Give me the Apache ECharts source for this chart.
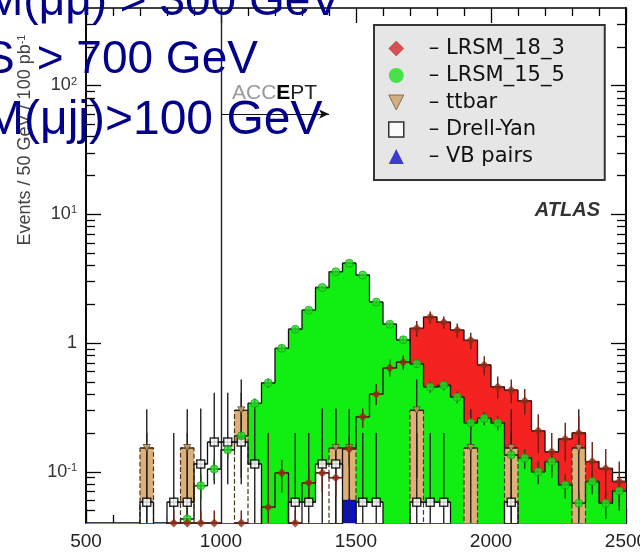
<!DOCTYPE html>
<html><head><meta charset="utf-8">
<script src="https://cdn.jsdelivr.net/npm/echarts@6/dist/echarts.min.js"></script>
<style>html,body{margin:0;padding:0;background:#fff}#c{width:640px;height:557px}</style>
</head><body><div id="c"></div>
<script>
// ---------- data (bins of 50 GeV, left edges) ----------
const binLow = [500,550,600,650,700,750,800,850,900,950,1000,1050,1100,1150,1200,1250,1300,1350,1400,1450,
                1500,1550,1600,1650,1700,1750,1800,1850,1900,1950,2000,2050,2100,2150,2200,2250,2300,2350,2400,2450];
const X_MAX = 2500;
const xTickLabels = [500,1000,1500,2000,2500];
const yMajorTicks = [0.1, 1, 10, 100];
const yMinorTicks = [0.05,0.06,0.07,0.08,0.09,0.2,0.3,0.4,0.5,0.6,0.7,0.8,0.9,2,3,4,5,6,7,8,9,20,30,40,50,60,70,80,90,200,300];

const lrsm183 = [0,0,0,0,0,0,0.04,0.04,0.04,0.04,0,0.04,0,0.053,0.098,0.04,0.082,0.098,0.09,0.15,
                 0.267,0.40,0.64,0.71,1.3,1.59,1.45,1.26,1.05,0.675,0.456,0.43,0.355,0.208,0.143,0.18,0.2,0.12,0.106,0.084];
const lrsm183Lo = [null,null,null,null,null,null,0,0,0,0,null,0,null,0,0.069,0,0.055,0.07,0.065,0.11,
                 0.22,0.33,0.55,0.62,1.12,1.42,1.29,1.1,0.9,0.56,0.37,0.34,0.28,0.14,0.09,0.12,0.14,0.075,0.065,0.05];
const lrsm183Hi = [null,null,null,null,null,null,0.05,0.05,0.05,0.05,null,0.05,null,0.2,0.124,0.05,0.11,0.125,0.115,0.19,
                 0.31,0.48,0.74,0.8,1.48,1.76,1.61,1.42,1.2,0.79,0.55,0.52,0.44,0.28,0.2,0.24,0.27,0.17,0.15,0.12];

const lrsm155 = [0,0,0,0,0,0,0,0.043,0.078,0.105,0.148,0.19,0.34,0.49,0.91,1.28,1.80,2.7,3.58,4.17,
                 3.37,2.08,1.40,1.06,0.69,0.456,0.47,0.38,0.24,0.26,0.24,0.135,0.128,0.10,0.12,0.079,0.057,0.084,0.057,0.071];
const lrsm155Lo = [null,null,null,null,null,null,null,0.03,0.06,0.085,0.125,0.165,0.31,0.45,0.86,1.22,1.73,2.62,3.48,4.06,
                 3.27,2.0,1.34,1.0,0.64,0.41,0.43,0.34,0.21,0.23,0.21,0.11,0.105,0.08,0.1,0.062,0.043,0.067,0.043,0.055];
const lrsm155Hi = [null,null,null,null,null,null,null,0.057,0.096,0.125,0.17,0.215,0.37,0.53,0.96,1.34,1.87,2.78,3.68,4.28,
                 3.47,2.16,1.46,1.12,0.74,0.5,0.51,0.42,0.27,0.29,0.27,0.16,0.15,0.12,0.14,0.096,0.071,0.1,0.071,0.087];

const ttbar   = [0,0,0,0,0.153,0,0,0.153,0,0,0,0.3,0,0,0,0,0,0,0.153,0.153,
                 0,0,0,0,0.3,0,0,0,0.153,0,0,0.153,0,0,0,0,0.153,0,0,0];
const ttbarLo = [null,null,null,null,0,null,null,0,null,null,null,0.09,null,null,null,null,null,null,0,0,
                 null,null,null,null,0.09,null,null,null,0,null,null,0,null,null,null,null,0,null,null,null];
const ttbarHi = [null,null,null,null,0.306,null,null,0.306,null,null,null,0.52,null,null,null,null,null,null,0.306,0.306,
                 null,null,null,null,0.52,null,null,null,0.306,null,null,0.306,null,null,null,null,0.306,null,null,null];

const drellYan = [0,0,0,0,0.058,0,0.058,0.058,0.115,0.17,0.17,0.17,0.115,0,0,0.058,0.058,0.115,0.115,0,
                  0.058,0.058,0,0,0.058,0.058,0.058,0,0,0,0,0.058,0,0,0,0,0,0,0,0];
const drellYanLo = [null,null,null,null,0,null,0,0,0.04,0.08,0.08,0.08,0.04,null,null,0,0,0.04,0.04,null,
                  0,0,null,null,0,0,0,null,null,null,null,0,null,null,null,null,null,null,null,null];
const drellYanHi = [null,null,null,null,0.2,null,0.2,0.2,0.31,0.41,0.41,0.41,0.31,null,null,0.2,0.2,0.31,0.31,null,
                  0.2,0.2,null,null,0.2,0.2,0.2,null,null,null,null,0.2,null,null,null,null,null,null,null,null];

const vbPairs = [0,0,0,0,0,0,0,0,0,0,0,0,0,0,0,0,0,0,0,0.06,
                 0,0,0,0,0,0,0,0,0,0,0,0,0,0,0,0,0,0,0,0];

const ACCEPT_CUT = 1000, ARROW_END = 1400, ARROW_Y = 60;
const Y_MIN = 0.04, Y_MAX = 400;
const FLOOR = 1e-3; // empty bins fall below the axis

// ---------- helpers ----------
const binHigh = binLow.map((x, i) => i + 1 < binLow.length ? binLow[i + 1] : X_MAX);
const FONT = '"Liberation Sans", Arial, Helvetica, sans-serif';
const WIDE = '"DejaVu Sans", sans-serif';
const GRID = { left: 86, right: 14, top: 8, bottom: 34 };
const GRID_W = 640 - GRID.left - GRID.right;

function histLine(vals) {
  const pts = binLow.map((x, i) => [x, vals[i] > 0 ? vals[i] : FLOOR]);
  const last = vals[vals.length - 1];
  pts.push([X_MAX, last > 0 ? last : FLOOR]);
  return pts;
}
function histSeries(name, vals, fill, line) {
  return {
    type: 'line', name: name, data: histLine(vals), step: 'end', showSymbol: false, symbol: 'none',
    clip: true, z: 2, silent: true,
    lineStyle: line, areaStyle: { color: fill, opacity: 1, origin: 'start' }
  };
}
function points(vals) {
  const out = [];
  vals.forEach((v, i) => { if (v > 0) out.push([(binLow[i] + binHigh[i]) / 2, v]); });
  return out;
}
function errSeries(name, vals, lo, hi, color) {
  const data = [];
  vals.forEach((v, i) => { if (v > 0 && lo[i] != null) data.push([binLow[i], binHigh[i], v, lo[i], hi[i]]); });
  return {
    type: 'custom', name: name, data: data, z: 3, silent: true,
    encode: { x: [0, 1], y: 2 },
    renderItem: function (params, api) {
      const xl = api.value(0), xh = api.value(1), v = api.value(2);
      const lo = Math.max(api.value(3), Y_MIN), hiV = Math.min(api.value(4), Y_MAX);
      const xc = (xl + xh) / 2;
      const pL = api.coord([xl, v]), pR = api.coord([xh, v]);
      const pT = api.coord([xc, hiV]), pB = api.coord([xc, lo]);
      const st = { stroke: color, lineWidth: 1.4 };
      return { type: 'group', children: [
        { type: 'line', shape: { x1: pL[0], y1: pL[1], x2: pR[0], y2: pR[1] }, style: st },
        { type: 'line', shape: { x1: pT[0], y1: pT[1], x2: pB[0], y2: pB[1] }, style: st }
      ]};
    }
  };
}
function supLabel(v) {
  const e = Math.round(Math.log10(v));
  if (e === 0) return '1';
  return '10{s|' + e + '}';
}

const axisLineStyle = { color: '#000', width: 1.6 };
const tickStyle = { color: '#000', width: 1.3 };
const xBase = {
  type: 'value', min: 500, max: X_MAX, interval: 500,
  splitLine: { show: false },
  axisLine: { show: true, onZero: false, lineStyle: axisLineStyle },
  axisTick: { show: true, inside: true, length: 15, lineStyle: tickStyle },
  minorTick: { show: true, splitNumber: 5, length: 8, lineStyle: tickStyle }
};
const yBase = {
  type: 'log', logBase: 10, min: Y_MIN, max: Y_MAX,
  splitLine: { show: false }, minorTick: { show: false },
  axisLine: { show: true, onZero: false, lineStyle: axisLineStyle }
};

const option = {
  animation: false,
  backgroundColor: '#fff',
  textStyle: { fontFamily: FONT },
  grid: { left: GRID.left, right: GRID.right, top: GRID.top, bottom: GRID.bottom,
          containLabel: false, outerBoundsMode: 'none' },
  xAxis: [
    Object.assign({}, xBase, { position: 'bottom',
      axisLabel: { show: true, margin: 9, fontSize: 19, color: '#222', fontFamily: FONT,
        customValues: xTickLabels, formatter: function (v) { return String(v); } } }),
    Object.assign({}, xBase, { position: 'top', axisLabel: { show: false } })
  ],
  yAxis: [
    Object.assign({}, yBase, { position: 'left',
      axisTick: { show: true, inside: true, length: 15, lineStyle: tickStyle, customValues: yMajorTicks },
      axisLabel: { show: true, margin: 9, fontSize: 18, color: '#333', fontFamily: FONT,
        customValues: yMajorTicks, formatter: supLabel,
        rich: { s: { fontSize: 11, color: '#333', verticalAlign: 'top', padding: [0, 0, 8, 0] } } } }),
    // minor ticks of the left frame edge (a right-side axis moved onto the left edge)
    Object.assign({}, yBase, { position: 'right', offset: -GRID_W,
      axisTick: { show: true, inside: false, length: 9, lineStyle: tickStyle, customValues: yMinorTicks },
      axisLabel: { show: false } }),
    Object.assign({}, yBase, { position: 'right',
      axisTick: { show: true, inside: true, length: 15, lineStyle: tickStyle, customValues: yMajorTicks },
      axisLabel: { show: false } }),
    Object.assign({}, yBase, { position: 'right',
      axisTick: { show: true, inside: true, length: 9, lineStyle: tickStyle, customValues: yMinorTicks },
      axisLabel: { show: false } })
  ],
  legend: {
    show: true, orient: 'vertical', left: 374, top: 25, selectedMode: false,
    backgroundColor: '#e6e6e6', borderColor: '#333', borderWidth: 2, borderRadius: 0,
    padding: [13, 40, 13, 14], itemGap: 6, itemWidth: 15, itemHeight: 15,
    textStyle: { fontSize: 21, color: '#111', fontFamily: WIDE,
      rich: { a: { fontSize: 21, color: '#111', padding: [0, 0, 0, 20], fontFamily: WIDE } } },
    formatter: function (name) { return '{a|– ' + name + '}'; },
    data: [
      { name: 'LRSM_18_3', icon: 'diamond', itemStyle: { color: '#d42a2a', borderColor: '#8a1a1a', borderWidth: 0.5 } },
      { name: 'LRSM_15_5', icon: 'circle', itemStyle: { color: '#22e022', borderColor: '#22e022', borderWidth: 0 } },
      { name: 'ttbar', icon: 'path://M0,0 L10,0 L5,10 Z', itemStyle: { color: '#c9a06a', borderColor: '#7a5a30', borderWidth: 1 } },
      { name: 'Drell-Yan', icon: 'rect', itemStyle: { color: '#fff', borderColor: '#000', borderWidth: 1.5 } },
      { name: 'VB pairs', icon: 'triangle', itemStyle: { color: '#1010c8', borderColor: '#1010c8', borderWidth: 0 } }
    ]
  },
  graphic: [
    { type: 'text', x: -15, y: 2, z: 100, silent: true,
      style: { text: 'M(μμ) > 300 GeV', font: '46px ' + FONT, fill: '#00008b', align: 'left', verticalAlign: 'middle' } },
    { type: 'text', x: -16, y: 60, z: 100, silent: true,
      style: { text: '{a|S}{b|> 700 GeV}', font: '46px ' + FONT, fill: '#00008b', align: 'left', verticalAlign: 'middle',
        rich: { a: { fontSize: 46, fontFamily: FONT, fill: '#00008b' },
                b: { fontSize: 46, fontFamily: FONT, fill: '#00008b', padding: [0, 0, 0, 22] } } } },
    { type: 'text', x: -16, y: 121, z: 100, silent: true,
      style: { text: 'M(μjj)>100 GeV', font: '48px ' + FONT, fill: '#00008b', align: 'left', verticalAlign: 'middle' } },
    { type: 'text', x: 25, y: 140, rotation: Math.PI / 2, z: 50, silent: true,
      style: { text: 'Events / 50 GeV / 100 pb{s|-1}', font: '18px ' + FONT, fill: '#444',
        align: 'center', verticalAlign: 'middle',
        rich: { s: { fontSize: 11, fill: '#444', verticalAlign: 'top', fontFamily: FONT } } } },
    { type: 'text', x: 600, y: 210, z: 50, silent: true,
      style: { text: 'ATLAS', font: 'italic bold 20px ' + FONT, fill: '#333', align: 'right', verticalAlign: 'middle' } }
  ],
  series: [
    histSeries('LRSM_18_3 hist', lrsm183, '#f52222', { color: '#111', width: 1.3 }),
    histSeries('LRSM_15_5 hist', lrsm155, '#11ee11', { color: '#111', width: 1.3 }),
    histSeries('ttbar hist', ttbar, '#dcb078', { color: '#4a3418', width: 1.2, type: 'dashed' }),
    histSeries('Drell-Yan hist', drellYan, '#ffffff', { color: '#111', width: 1.3 }),
    histSeries('VB pairs hist', vbPairs, '#0a10c0', { color: '#111', width: 1 }),
    errSeries('ttbar err', ttbar, ttbarLo, ttbarHi, '#222'),
    errSeries('Drell-Yan err', drellYan, drellYanLo, drellYanHi, '#222'),
    errSeries('LRSM_15_5 err', lrsm155, lrsm155Lo, lrsm155Hi, '#1a4a1a'),
    errSeries('LRSM_18_3 err', lrsm183, lrsm183Lo, lrsm183Hi, '#6a2010'),
    { type: 'scatter', name: 'ttbar', data: points(ttbar), symbol: 'path://M0,0 L10,0 L5,10 Z', symbolSize: 7, z: 4, clip: false,
      itemStyle: { color: '#c9a06a', borderColor: '#5a4020', borderWidth: 1 } },
    { type: 'scatter', name: 'Drell-Yan', data: points(drellYan), symbol: 'rect', symbolSize: 8, z: 4, clip: false,
      itemStyle: { color: '#fff', borderColor: '#000', borderWidth: 1.5 } },
    { type: 'scatter', name: 'VB pairs', data: points(vbPairs), symbol: 'triangle', symbolSize: 6, z: 4, clip: false,
      itemStyle: { color: '#1010c8' } },
    { type: 'scatter', name: 'LRSM_15_5', data: points(lrsm155), symbol: 'circle', symbolSize: 8, z: 4, clip: false,
      itemStyle: { color: '#22e022', borderColor: '#109010', borderWidth: 0.8 } },
    { type: 'scatter', name: 'LRSM_18_3', data: points(lrsm183), symbol: 'diamond', symbolSize: 9, z: 4, clip: false,
      itemStyle: { color: '#8e2c18' },
      markLine: {
        silent: true, symbol: ['none', 'none'], animation: false,
        data: [
          { xAxis: ACCEPT_CUT, lineStyle: { color: '#222', width: 1.4, type: 'solid' }, label: { show: false } },
          [
            { coord: [ACCEPT_CUT, ARROW_Y], symbol: 'none' },
            { coord: [ARROW_END, ARROW_Y], symbol: 'arrow', symbolSize: [7, 10],
              lineStyle: { color: '#111', width: 1.2, type: 'solid' },
              label: { show: true, position: 'insideStartTop', distance: [11, 10],
                formatter: '{a|ACC}{b|E}{c|PT}',
                rich: { a: { fontSize: 21, color: '#9a9a9a', fontFamily: FONT },
                        b: { fontSize: 21, color: '#000', fontWeight: 'bold', fontFamily: FONT },
                        c: { fontSize: 21, color: '#222', fontFamily: FONT } } } }
          ]
        ]
      } }
  ]
};
const chart = echarts.init(document.getElementById('c'), null, { renderer: 'canvas' });
chart.setOption(option);
</script></body></html>
